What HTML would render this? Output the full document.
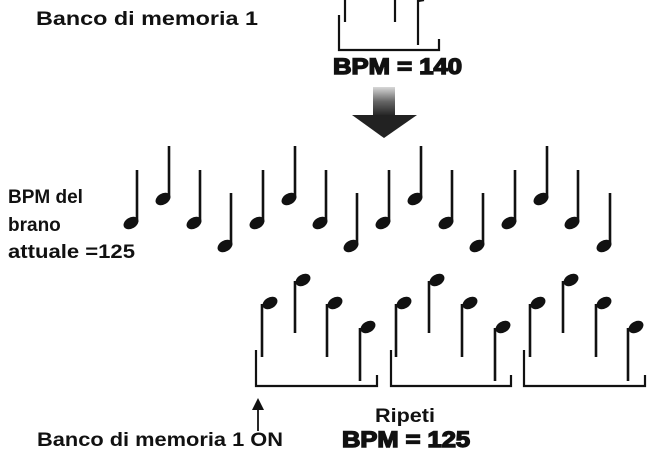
<!DOCTYPE html>
<html><head><meta charset="utf-8"><style>
html,body{margin:0;padding:0;background:#fff;}
svg{display:block;}
text{font-family:"Liberation Sans",Arial,sans-serif;font-weight:bold;fill:#111;}
ellipse{stroke:none;}
</style></head><body>
<svg width="651" height="451" viewBox="0 0 651 451" xmlns="http://www.w3.org/2000/svg">
<defs>
<linearGradient id="g" x1="0" y1="0" x2="0" y2="1">
<stop offset="0" stop-color="#d8d8d8"/><stop offset="0.5" stop-color="#666"/><stop offset="1" stop-color="#222"/>
</linearGradient>
</defs>
<text x="36" y="25" font-size="19" textLength="222" lengthAdjust="spacingAndGlyphs">Banco di memoria 1</text>
<g stroke="#111" stroke-width="2.2" fill="none">
<line x1="345" y1="0" x2="345" y2="22"/>
<line x1="395" y1="0" x2="395" y2="22"/>
<line x1="418" y1="0" x2="418" y2="45"/>
<line x1="418" y1="1" x2="424" y2="0"/>
<polyline points="339,15 339,50 439,50 439,39"/>
</g>
<text x="333" y="74" font-size="22" stroke="#111" stroke-width="1.4" textLength="129" lengthAdjust="spacingAndGlyphs">BPM = 140</text>
<rect x="373" y="87" width="22" height="29" fill="url(#g)"/>
<polygon points="352,115 417,115 384,138" fill="#222"/>
<text x="8" y="203" font-size="19">BPM del</text>
<text x="8" y="231" font-size="19">brano</text>
<text x="8" y="258" font-size="19" textLength="127" lengthAdjust="spacingAndGlyphs">attuale =125</text>
<text x="375" y="422" font-size="19" textLength="60" lengthAdjust="spacingAndGlyphs">Ripeti</text>
<text x="37" y="446" font-size="19" textLength="246" lengthAdjust="spacingAndGlyphs">Banco di memoria 1 ON</text>
<text x="342" y="447" font-size="22" stroke="#111" stroke-width="1.4" textLength="128" lengthAdjust="spacingAndGlyphs">BPM = 125</text>
<line x1="258" y1="404" x2="258" y2="431" stroke="#111" stroke-width="1.8"/>
<polygon points="258,398 252,410 264,410" fill="#111"/>
<g stroke="#111" stroke-width="2.2" fill="none">
<polyline points="256,350 256,386 377,386 377,375"/>
<polyline points="391,350 391,386 511,386 511,375"/>
<polyline points="524,350 524,386 645,386 645,375"/>
</g>
<g fill="#111" stroke="#111" stroke-width="2.6">
<line x1="137" y1="170" x2="137" y2="222"/><ellipse cx="131" cy="223" rx="8" ry="5.5" transform="rotate(-30 131 223)"/>
<line x1="169" y1="146" x2="169" y2="198"/><ellipse cx="163" cy="199" rx="8" ry="5.5" transform="rotate(-30 163 199)"/>
<line x1="200" y1="170" x2="200" y2="222"/><ellipse cx="194" cy="223" rx="8" ry="5.5" transform="rotate(-30 194 223)"/>
<line x1="231" y1="193" x2="231" y2="245"/><ellipse cx="225" cy="246" rx="8" ry="5.5" transform="rotate(-30 225 246)"/>
<line x1="263" y1="170" x2="263" y2="222"/><ellipse cx="257" cy="223" rx="8" ry="5.5" transform="rotate(-30 257 223)"/>
<line x1="295" y1="146" x2="295" y2="198"/><ellipse cx="289" cy="199" rx="8" ry="5.5" transform="rotate(-30 289 199)"/>
<line x1="326" y1="170" x2="326" y2="222"/><ellipse cx="320" cy="223" rx="8" ry="5.5" transform="rotate(-30 320 223)"/>
<line x1="357" y1="193" x2="357" y2="245"/><ellipse cx="351" cy="246" rx="8" ry="5.5" transform="rotate(-30 351 246)"/>
<line x1="389" y1="170" x2="389" y2="222"/><ellipse cx="383" cy="223" rx="8" ry="5.5" transform="rotate(-30 383 223)"/>
<line x1="421" y1="146" x2="421" y2="198"/><ellipse cx="415" cy="199" rx="8" ry="5.5" transform="rotate(-30 415 199)"/>
<line x1="452" y1="170" x2="452" y2="222"/><ellipse cx="446" cy="223" rx="8" ry="5.5" transform="rotate(-30 446 223)"/>
<line x1="483" y1="193" x2="483" y2="245"/><ellipse cx="477" cy="246" rx="8" ry="5.5" transform="rotate(-30 477 246)"/>
<line x1="515" y1="170" x2="515" y2="222"/><ellipse cx="509" cy="223" rx="8" ry="5.5" transform="rotate(-30 509 223)"/>
<line x1="547" y1="146" x2="547" y2="198"/><ellipse cx="541" cy="199" rx="8" ry="5.5" transform="rotate(-30 541 199)"/>
<line x1="578" y1="170" x2="578" y2="222"/><ellipse cx="572" cy="223" rx="8" ry="5.5" transform="rotate(-30 572 223)"/>
<line x1="610" y1="193" x2="610" y2="245"/><ellipse cx="604" cy="246" rx="8" ry="5.5" transform="rotate(-30 604 246)"/>
<line x1="262" y1="304" x2="262" y2="357"/><ellipse cx="270" cy="303" rx="8" ry="5.5" transform="rotate(-30 270 303)"/>
<line x1="295" y1="281" x2="295" y2="333"/><ellipse cx="303" cy="280" rx="8" ry="5.5" transform="rotate(-30 303 280)"/>
<line x1="327" y1="304" x2="327" y2="357"/><ellipse cx="335" cy="303" rx="8" ry="5.5" transform="rotate(-30 335 303)"/>
<line x1="360" y1="328" x2="360" y2="381"/><ellipse cx="368" cy="327" rx="8" ry="5.5" transform="rotate(-30 368 327)"/>
<line x1="396" y1="304" x2="396" y2="357"/><ellipse cx="404" cy="303" rx="8" ry="5.5" transform="rotate(-30 404 303)"/>
<line x1="429" y1="281" x2="429" y2="333"/><ellipse cx="437" cy="280" rx="8" ry="5.5" transform="rotate(-30 437 280)"/>
<line x1="462" y1="304" x2="462" y2="357"/><ellipse cx="470" cy="303" rx="8" ry="5.5" transform="rotate(-30 470 303)"/>
<line x1="495" y1="328" x2="495" y2="381"/><ellipse cx="503" cy="327" rx="8" ry="5.5" transform="rotate(-30 503 327)"/>
<line x1="530" y1="304" x2="530" y2="357"/><ellipse cx="538" cy="303" rx="8" ry="5.5" transform="rotate(-30 538 303)"/>
<line x1="563" y1="281" x2="563" y2="333"/><ellipse cx="571" cy="280" rx="8" ry="5.5" transform="rotate(-30 571 280)"/>
<line x1="596" y1="304" x2="596" y2="357"/><ellipse cx="604" cy="303" rx="8" ry="5.5" transform="rotate(-30 604 303)"/>
<line x1="628" y1="328" x2="628" y2="381"/><ellipse cx="636" cy="327" rx="8" ry="5.5" transform="rotate(-30 636 327)"/>
</g>
</svg>
</body></html>
